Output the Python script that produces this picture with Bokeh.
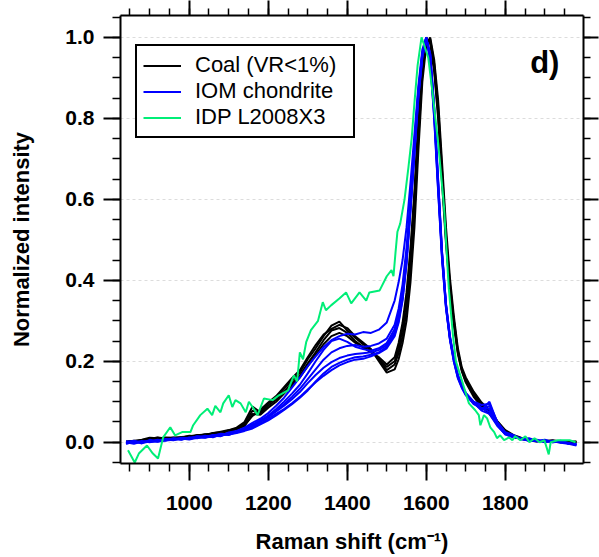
from bokeh.plotting import figure
from bokeh.models import (LinearAxis, SingleIntervalTicker, Legend, LegendItem,
                          Label, PrintfTickFormatter, Range1d, CustomLabelingPolicy)
from bokeh.embed import file_html
from bokeh.resources import INLINE

# ---------------- data ----------------
raman_shift = [840, 860, 880, 900, 920, 940, 960, 980, 1000, 1020, 1040, 1060, 1080, 1100,
               1120, 1140, 1160, 1180, 1200, 1220, 1240, 1260, 1280, 1300, 1320, 1340, 1360,
               1380, 1400, 1420, 1440, 1460, 1480, 1500, 1520,
               1530, 1540, 1550, 1560, 1570, 1580, 1590, 1600, 1610, 1620, 1630, 1640, 1650,
               1660, 1670, 1680, 1690, 1700,
               1720, 1740, 1760, 1780, 1800, 1820, 1840, 1860, 1880, 1900, 1920, 1940, 1960, 1980]

coal_1 = [0.000, 0.003, 0.006, 0.011, 0.010, 0.007, 0.010, 0.013, 0.014, 0.018, 0.017, 0.022, 0.026, 0.030, 0.036, 0.050, 0.088, 0.074, 0.095, 0.110, 0.132, 0.152, 0.172, 0.205, 0.232, 0.262, 0.288, 0.298, 0.276, 0.258, 0.242, 0.228, 0.205, 0.178, 0.192,
          0.220, 0.262, 0.325, 0.425, 0.565, 0.750, 0.910, 0.990, 0.995, 0.935, 0.830, 0.670, 0.510, 0.390, 0.300, 0.225, 0.180, 0.155,
          0.120, 0.095, 0.078, 0.050, 0.028, 0.016, 0.010, 0.006, 0.004, 0.002, 0.004, 0.000, 0.001, 0.000]
coal_2 = [0.002, 0.001, 0.004, 0.008, 0.012, 0.009, 0.008, 0.011, 0.016, 0.015, 0.020, 0.019, 0.024, 0.028, 0.033, 0.046, 0.078, 0.070, 0.090, 0.105, 0.125, 0.145, 0.165, 0.195, 0.222, 0.252, 0.276, 0.282, 0.270, 0.250, 0.236, 0.224, 0.206, 0.186, 0.200,
          0.232, 0.280, 0.350, 0.455, 0.600, 0.780, 0.930, 0.995, 0.990, 0.925, 0.815, 0.655, 0.500, 0.385, 0.295, 0.222, 0.178, 0.150,
          0.116, 0.090, 0.072, 0.046, 0.025, 0.015, 0.008, 0.005, 0.003, 0.003, 0.002, 0.001, 0.000, 0.002]
coal_3 = [0.001, 0.004, 0.003, 0.007, 0.009, 0.012, 0.011, 0.010, 0.013, 0.017, 0.019, 0.021, 0.023, 0.029, 0.034, 0.042, 0.065, 0.080, 0.098, 0.114, 0.136, 0.158, 0.178, 0.210, 0.240, 0.266, 0.280, 0.290, 0.282, 0.262, 0.246, 0.230, 0.200, 0.172, 0.180,
          0.205, 0.245, 0.300, 0.395, 0.530, 0.720, 0.890, 0.980, 1.000, 0.945, 0.845, 0.690, 0.530, 0.405, 0.310, 0.232, 0.185, 0.160,
          0.125, 0.098, 0.080, 0.052, 0.030, 0.018, 0.011, 0.007, 0.004, 0.003, 0.005, 0.002, 0.001, 0.000]
coal_4 = [0.000, 0.002, 0.005, 0.009, 0.011, 0.008, 0.012, 0.012, 0.015, 0.016, 0.018, 0.023, 0.025, 0.027, 0.032, 0.040, 0.070, 0.068, 0.085, 0.100, 0.120, 0.140, 0.160, 0.188, 0.215, 0.242, 0.262, 0.270, 0.262, 0.246, 0.234, 0.222, 0.210, 0.192, 0.210,
          0.245, 0.295, 0.370, 0.480, 0.620, 0.800, 0.945, 1.000, 0.985, 0.915, 0.800, 0.640, 0.490, 0.375, 0.288, 0.218, 0.175, 0.148,
          0.112, 0.088, 0.070, 0.044, 0.024, 0.013, 0.009, 0.004, 0.002, 0.004, 0.001, 0.000, 0.002, 0.001]

iom_1 = [-0.002, 0.004, -0.003, 0.006, 0.002, 0.008, 0.006, 0.011, 0.010, 0.014, 0.013, 0.018, 0.016, 0.024, 0.028, 0.036, 0.048, 0.058, 0.072, 0.090, 0.110, 0.135, 0.160, 0.188, 0.212, 0.235, 0.252, 0.262, 0.268, 0.266, 0.272, 0.270, 0.278, 0.296, 0.350,
         0.395, 0.450, 0.530, 0.640, 0.760, 0.880, 0.970, 1.000, 0.940, 0.800, 0.620, 0.450, 0.330, 0.255, 0.205, 0.165, 0.140, 0.122,
         0.100, 0.092, 0.095, 0.050, 0.025, 0.018, 0.008, 0.010, 0.003, 0.006, 0.000, 0.004, -0.004, -0.008]
iom_2 = [0.000, -0.004, 0.002, 0.001, 0.006, 0.004, 0.009, 0.007, 0.012, 0.010, 0.016, 0.012, 0.019, 0.021, 0.025, 0.030, 0.036, 0.046, 0.058, 0.070, 0.082, 0.096, 0.112, 0.130, 0.148, 0.164, 0.178, 0.190, 0.198, 0.204, 0.206, 0.212, 0.220, 0.232, 0.262,
         0.295, 0.350, 0.440, 0.570, 0.710, 0.850, 0.950, 0.995, 0.960, 0.830, 0.650, 0.470, 0.340, 0.260, 0.205, 0.165, 0.140, 0.120,
         0.098, 0.078, 0.070, 0.040, 0.020, 0.012, 0.010, 0.004, 0.006, 0.000, 0.004, 0.000, -0.002, -0.006]
iom_3 = [-0.003, 0.000, 0.003, 0.000, 0.005, 0.007, 0.005, 0.010, 0.008, 0.013, 0.011, 0.017, 0.020, 0.018, 0.026, 0.034, 0.042, 0.054, 0.066, 0.082, 0.100, 0.120, 0.142, 0.170, 0.200, 0.228, 0.250, 0.256, 0.248, 0.236, 0.230, 0.226, 0.232, 0.245, 0.280,
         0.318, 0.375, 0.465, 0.590, 0.730, 0.865, 0.960, 1.000, 0.950, 0.815, 0.635, 0.460, 0.335, 0.255, 0.200, 0.160, 0.136, 0.118,
         0.094, 0.085, 0.082, 0.045, 0.022, 0.016, 0.007, 0.008, 0.002, 0.005, 0.001, 0.003, -0.003, -0.005]
iom_4 = [0.002, -0.002, 0.000, 0.004, 0.003, 0.006, 0.008, 0.006, 0.011, 0.012, 0.014, 0.016, 0.015, 0.022, 0.024, 0.032, 0.040, 0.050, 0.062, 0.076, 0.090, 0.106, 0.124, 0.146, 0.166, 0.184, 0.198, 0.208, 0.214, 0.218, 0.220, 0.222, 0.228, 0.240, 0.272,
         0.305, 0.360, 0.450, 0.580, 0.720, 0.860, 0.955, 0.998, 0.955, 0.820, 0.640, 0.465, 0.338, 0.258, 0.202, 0.162, 0.138, 0.119,
         0.096, 0.082, 0.090, 0.042, 0.021, 0.014, 0.009, 0.005, 0.004, 0.002, 0.002, 0.001, -0.003, -0.004]
iom_5 = [-0.004, 0.002, 0.000, 0.003, 0.004, 0.005, 0.010, 0.008, 0.009, 0.015, 0.013, 0.015, 0.021, 0.020, 0.027, 0.033, 0.044, 0.052, 0.064, 0.078, 0.094, 0.112, 0.132, 0.156, 0.180, 0.204, 0.222, 0.232, 0.238, 0.240, 0.236, 0.238, 0.244, 0.256, 0.290,
         0.330, 0.390, 0.480, 0.600, 0.740, 0.870, 0.962, 1.000, 0.945, 0.805, 0.625, 0.455, 0.332, 0.252, 0.198, 0.158, 0.134, 0.116,
         0.097, 0.080, 0.100, 0.048, 0.023, 0.015, 0.008, 0.006, 0.003, 0.004, 0.000, 0.002, -0.002, -0.007]
iom_6 = [0.001, 0.003, -0.002, 0.002, 0.001, 0.004, 0.006, 0.009, 0.007, 0.011, 0.012, 0.014, 0.017, 0.019, 0.023, 0.028, 0.034, 0.044, 0.054, 0.066, 0.080, 0.094, 0.110, 0.128, 0.150, 0.170, 0.186, 0.196, 0.204, 0.210, 0.212, 0.216, 0.222, 0.236, 0.266,
         0.300, 0.355, 0.445, 0.575, 0.715, 0.855, 0.952, 0.997, 0.958, 0.825, 0.645, 0.468, 0.342, 0.262, 0.206, 0.166, 0.140, 0.121,
         0.099, 0.084, 0.075, 0.043, 0.019, 0.013, 0.009, 0.003, 0.005, 0.001, 0.003, -0.001, -0.004, -0.005]

idp_shift = [845, 862, 873, 893, 908, 921, 934, 952, 964, 982, 1003, 1010, 1028, 1046, 1058,
             1066, 1079, 1086, 1100, 1109, 1117, 1130, 1143, 1151, 1163, 1173, 1189, 1211,
             1227, 1250, 1265, 1273, 1280, 1288, 1296, 1308, 1326, 1338, 1346, 1359, 1380,
             1397, 1410, 1431, 1448, 1456, 1482, 1500, 1512, 1517, 1522, 1527, 1534, 1545,
             1555, 1563, 1571, 1578, 1588, 1595, 1605, 1615, 1630, 1645, 1657, 1668, 1675,
             1690, 1708, 1724, 1733, 1737, 1746, 1754, 1762, 1772, 1779, 1787, 1797, 1810,
             1818, 1825, 1838, 1851, 1861, 1874, 1887, 1899, 1910, 1915, 1933, 1945, 1963, 1978]
idp_intensity = [-0.020, -0.050, -0.027, -0.008, -0.028, -0.040, 0.012, 0.037, 0.017, 0.025, 0.025, 0.042, 0.067, 0.083, 0.067,
                 0.090, 0.074, 0.096, 0.116, 0.087, 0.104, 0.096, 0.074, 0.100, 0.083, 0.067, 0.108, 0.104,
                 0.116, 0.128, 0.165, 0.150, 0.222, 0.205, 0.247, 0.277, 0.300, 0.346, 0.326, 0.338, 0.355,
                 0.370, 0.343, 0.370, 0.350, 0.370, 0.375, 0.410, 0.425, 0.410, 0.467, 0.520, 0.540, 0.600,
                 0.680, 0.750, 0.850, 0.930, 1.000, 0.980, 0.950, 0.870, 0.740, 0.580, 0.380, 0.260, 0.200,
                 0.153, 0.096, 0.079, 0.067, 0.042, 0.067, 0.059, 0.037, 0.025, 0.010, 0.017, 0.005, 0.012,
                 0.005, 0.015, 0.005, 0.015, 0.000, 0.010, 0.000, 0.005, -0.030, 0.000, 0.005, 0.005, 0.005, 0.000]

coal_series = [coal_1, coal_2, coal_3, coal_4]
iom_series = [iom_1, iom_2, iom_3, iom_4, iom_5, iom_6]
for s in coal_series + iom_series:
    assert len(s) == len(raman_shift)
assert len(idp_shift) == len(idp_intensity)

legend_labels = ["Coal (VR<1%)", "IOM chondrite", "IDP L2008X3"]
x_tick_interval = 200
y_tick_interval = 0.2

COAL = "#000000"
IOM = "#0000ff"
IDP = "#00ee77"
FONT = "Liberation Sans"

# ---------------- figure ----------------
p = figure(width=599, height=557,
           x_range=Range1d(826, 1998), y_range=Range1d(-0.0525, 1.054),
           output_backend="svg", toolbar_location=None,
           min_border_left=120, min_border_right=16, min_border_top=15, min_border_bottom=94,
           x_axis_label="Raman shift (cm\u207b\u00b9)", y_axis_label="Normalized intensity")
p.outline_line_color = None
p.background_fill_color = "white"
p.border_fill_color = "white"

xt = SingleIntervalTicker(interval=x_tick_interval, num_minor_ticks=4)
yt = SingleIntervalTicker(interval=y_tick_interval, num_minor_ticks=4)

p.xaxis.ticker = xt
p.yaxis.ticker = yt
p.yaxis.formatter = PrintfTickFormatter(format="%.1f")

for ax in [p.xaxis[0], p.yaxis[0]]:
    ax.axis_line_width = 2
    ax.major_tick_line_width = 2
    ax.minor_tick_line_width = 1.5
    ax.major_tick_in = 0
    ax.minor_tick_in = 0
    ax.major_tick_out = 17
    ax.minor_tick_out = 8
    ax.major_label_text_font = FONT
    ax.major_label_text_font_style = "bold"
    ax.major_label_text_font_size = "21px"
    ax.major_label_text_color = "black"
    ax.axis_label_text_font = FONT
    ax.axis_label_text_font_style = "bold"
    ax.axis_label_text_font_size = "22px"
    ax.axis_label_text_color = "black"

p.yaxis.major_label_standoff = 9
p.yaxis.axis_label_standoff = 28
p.xaxis.major_label_standoff = 15
p.xaxis.axis_label_standoff = 16

hide_all = CustomLabelingPolicy(code="""
const ids = indices.ones ? Array.from(indices.ones()) : [];
for (const i of ids) { if (indices.unset) { indices.unset(i) } else { indices.set(i, false) } }
return indices
""")

top_axis = LinearAxis(ticker=SingleIntervalTicker(interval=x_tick_interval, num_minor_ticks=4),
                      major_label_text_font_size="0px", major_label_standoff=0,
                      major_label_policy=hide_all,
                      axis_line_width=2, major_tick_line_width=2, minor_tick_line_width=1.5,
                      major_tick_in=0, minor_tick_in=0, major_tick_out=15, minor_tick_out=7)
right_axis = LinearAxis(ticker=SingleIntervalTicker(interval=y_tick_interval, num_minor_ticks=4),
                        major_label_text_font_size="0px", major_label_standoff=0,
                        major_label_policy=hide_all,
                        axis_line_width=2, major_tick_line_width=2, minor_tick_line_width=1.5,
                        major_tick_in=0, minor_tick_in=0, major_tick_out=15, minor_tick_out=7)
p.add_layout(top_axis, "above")
p.add_layout(right_axis, "right")

p.xgrid.grid_line_color = None
p.ygrid.grid_line_color = "#dcdcdc"
p.ygrid.grid_line_dash = "3 3"
p.ygrid.grid_line_width = 1

coal_r = []
for s in coal_series:
    coal_r.append(p.line(raman_shift, s, line_color=COAL, line_width=2))
iom_r = []
for s in iom_series:
    iom_r.append(p.line(raman_shift, s, line_color=IOM, line_width=2))
idp_r = p.line(idp_shift, idp_intensity, line_color=IDP, line_width=2)

legend = Legend(items=[LegendItem(label=legend_labels[0], renderers=[coal_r[0]]),
                       LegendItem(label=legend_labels[1], renderers=[iom_r[0]]),
                       LegendItem(label=legend_labels[2], renderers=[idp_r])],
                location=(15, 325), orientation="vertical",
                border_line_color="black", border_line_width=2, border_line_alpha=1.0,
                background_fill_color="white", background_fill_alpha=1,
                label_text_font=FONT, label_text_font_size="22px", label_text_color="black",
                label_text_line_height=1.0,
                glyph_width=38, glyph_height=25, label_height=25, label_width=152, spacing=0,
                padding=6, margin=0, label_standoff=14)
p.add_layout(legend)

p.add_layout(Label(x=1937, y=0.938, text="d)", text_font=FONT, text_font_style="bold",
                   text_font_size="31px", text_align="right", text_baseline="alphabetic",
                   text_color="black"))

open("out.html", "w").write(file_html(p, INLINE))
